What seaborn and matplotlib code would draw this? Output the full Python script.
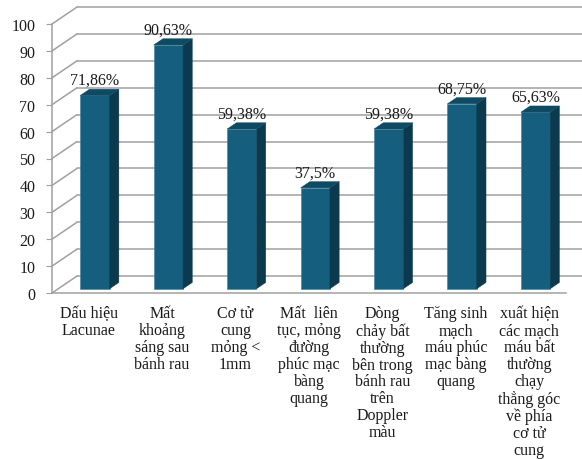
import numpy as np
import pandas as pd
import seaborn as sns
import matplotlib.pyplot as plt
from matplotlib.patches import Polygon

categories = [
    "Dấu hiệu\nLacunae",
    "Mất\nkhoảng\nsáng sau\nbánh rau",
    "Cơ tử\ncung\nmỏng <\n1mm",
    "Mất  liên\ntục, mỏng\nđường\nphúc mạc\nbàng\nquang",
    "Dòng\nchảy bất\nthường\nbên trong\nbánh rau\ntrên\nDoppler\nmàu",
    "Tăng sinh\nmạch\nmáu phúc\nmạc bàng\nquang",
    "xuất hiện\ncác mạch\nmáu bất\nthường\nchạy\nthẳng góc\nvề phía\ncơ tử\ncung",
]
values = [71.86, 90.63, 59.38, 37.5, 59.38, 68.75, 65.63]
value_labels = ["71,86%", "90,63%", "59,38%", "37,5%", "59,38%", "68,75%", "65,63%"]
yticks = [0, 10, 20, 30, 40, 50, 60, 70, 80, 90, 100]

# fake 3d: oblique offset of the back wall (data units)
DX, DY = 0.34, 6.3
D0, D1 = 0.25, 0.62   # depth range of the bars
BAR_W = 0.40
FRONT = "#155E7D"
SIDE = "#0B3A4E"
TOP = "#0F4A63"
GRID = "#A0A0A0"
TXT = "#1a1a1a"

sns.set_style("white")
plt.rcParams['font.family'] = ['Liberation Serif', 'DejaVu Serif']

df = pd.DataFrame({"cat": categories, "val": values})

fig = plt.figure(figsize=(5.82, 4.6), dpi=100)
ax = fig.add_axes([52 / 582, (460 - 294) / 460, (566 - 52) / 582, (294 - 25) / 460])

sns.barplot(data=df, x="cat", y="val", width=BAR_W, color=FRONT,
            saturation=1, ax=ax, zorder=3)

n = len(categories)
x_left, x_right = -0.5, n - 0.5

# back wall gridlines + left wall diagonals
for v in yticks:
    ax.plot([x_left + DX, x_right + DX + 0.5], [v + DY, v + DY],
            color=GRID, lw=1.1, clip_on=False, zorder=1)
    ax.plot([x_left, x_left + DX], [v, v + DY],
            color=GRID, lw=1.1, clip_on=False, zorder=1)

# shift the front faces into depth and add side/top faces
dd = D1 - D0
for p, v, lab in zip(ax.patches, values, value_labels):
    x0 = p.get_x() + D0 * DX
    p.set_x(x0)
    p.set_y(D0 * DY)
    p.set_edgecolor("#3f7f9c")
    p.set_linewidth(0.4)
    x1 = x0 + p.get_width()
    y0 = D0 * DY
    y1 = v + D0 * DY
    side = Polygon([(x1, y0), (x1 + dd * DX, y0 + dd * DY),
                    (x1 + dd * DX, y1 + dd * DY), (x1, y1)],
                   closed=True, facecolor=SIDE, edgecolor=SIDE, lw=0.3,
                   zorder=3, clip_on=False)
    top = Polygon([(x0, y1), (x1, y1), (x1 + dd * DX, y1 + dd * DY),
                   (x0 + dd * DX, y1 + dd * DY)],
                  closed=True, facecolor=TOP, edgecolor=TOP, lw=0.3,
                  zorder=3, clip_on=False)
    ax.add_patch(side)
    ax.add_patch(top)
    ax.text((x0 + x1) / 2, y1 + dd * DY + 0.4, lab, ha="center", va="bottom",
            fontsize=11.5, color=TXT, zorder=4)

ax.set_xlim(x_left, x_right)
ax.set_ylim(0, 100)
ax.set_yticks(yticks)
ax.set_yticklabels([str(t) for t in yticks], fontsize=11.5, color=TXT)
ax.set_xticks(range(n))
ax.set_xticklabels(categories, fontsize=11.5, color=TXT, linespacing=1.07,
                   va="top")
ax.set_xticks(np.arange(-0.5, n, 1.0), minor=True)
ax.tick_params(axis="x", which="major", length=0, pad=9)
ax.tick_params(axis="x", which="minor", length=4, color=GRID, direction="out")
ax.tick_params(axis="y", length=4, color=GRID, direction="out", pad=8, left=True)
ax.set_xlabel("")
ax.set_ylabel("")
ax.patch.set_alpha(0)
for s in ["top", "right"]:
    ax.spines[s].set_visible(False)
for s in ["left", "bottom"]:
    ax.spines[s].set_color(GRID)
    ax.spines[s].set_linewidth(1.1)

fig.savefig("out.png", dpi=100)
